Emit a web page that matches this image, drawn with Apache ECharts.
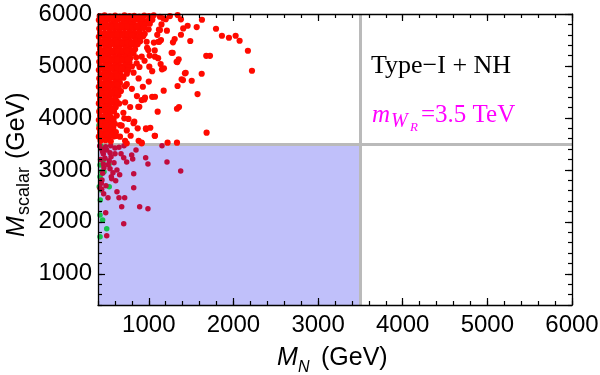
<!DOCTYPE html>
<html>
<head>
<meta charset="utf-8">
<script src="https://cdn.jsdelivr.net/npm/echarts@6/dist/echarts.min.js"></script>
<style>
html,body{margin:0;padding:0;background:#fff}
#chart{width:600px;height:375px}
</style>
</head>
<body>
<div id="chart"></div>
<script>
// axis range and tick labels (GeV)
var axisMin = 400
var axisMax = 6000
var tickValues = [1000, 2000, 3000, 4000, 5000, 6000]
var wrMass = 3500

// scan points, [M_N, M_scalar]
var redPoints = [
    [420,5960],[478,5972],[541,5955],[602,5968],[657,5950],[713,5975],[772,5958],[828,5966],[887,5952],[946,5970],[1003,5960],[1058,5975],
    [410,5885],[467,5872],[523,5890],[586,5878],[641,5893],[702,5870],[758,5886],[816,5874],[873,5892],[932,5878],[988,5868],[1042,5888],
    [430,5800],[488,5812],[551,5795],[608,5806],[667,5790],[724,5810],[786,5798],[842,5788],[898,5806],[957,5795],[1012,5812],
    [415,5720],[476,5732],[534,5712],[597,5726],[649,5716],[711,5730],[768,5708],[826,5724],[884,5712],[941,5730],[998,5705],
    [425,5640],[484,5628],[546,5648],[601,5632],[662,5645],[719,5626],[781,5642],[836,5630],[893,5646],[952,5620],
    [410,5560],[471,5572],[529,5552],[591,5568],[646,5556],[706,5574],[764,5550],[821,5566],[879,5554],[934,5570],
    [430,5480],[489,5492],[552,5472],[604,5488],[666,5476],[726,5494],[779,5470],[841,5486],[898,5478],
    [415,5400],[476,5412],[533,5392],[596,5406],[651,5396],[709,5414],[771,5390],[829,5404],[868,5420],
    [425,5320],[486,5332],[544,5312],[606,5326],[659,5316],[721,5334],[779,5310],[838,5324],
    [410,5240],[471,5252],[531,5232],[589,5246],[651,5236],[704,5254],[766,5230],[819,5244],
    [430,5160],[489,5172],[546,5152],[604,5166],[666,5156],[719,5174],[781,5150],[851,5166],
    [415,5080],[476,5092],[534,5072],[596,5086],[649,5076],[711,5094],[771,5070],
    [425,5000],[484,5012],[546,4992],[601,5006],[661,4996],[719,5014],[801,4990],
    [410,4920],[471,4932],[529,4912],[591,4926],[651,4916],[699,4934],
    [430,4840],[489,4852],[551,4832],[609,4846],[666,4836],[741,4850],
    [415,4760],[476,4772],[534,4752],[596,4766],[649,4756],[701,4774],
    [425,4680],[486,4692],[544,4672],[601,4686],[659,4676],
    [410,4600],[471,4612],[531,4592],[589,4606],[646,4596],[719,4612],
    [430,4520],[489,4532],[551,4512],[609,4526],[671,4516],
    [415,4440],[476,4452],[534,4432],[596,4446],[641,4436],
    [425,4360],[484,4372],[546,4352],[601,4366],
    [410,4280],[471,4292],[529,4272],[591,4286],[651,4276],
    [430,4200],[489,4212],[551,4192],[609,4206],
    [415,4120],[476,4132],[534,4112],[589,4126],
    [425,4040],[486,4052],[544,4032],[621,4046],
    [410,3960],[471,3972],[531,3952],[584,3966],
    [430,3880],[489,3892],[551,3872],[599,3886],
    [415,3800],[476,3812],[534,3792],[581,3806],
    [425,3720],[484,3732],[546,3712],[611,3726],
    [410,3640],[471,3652],[529,3632],[591,3646],
    [430,3560],[489,3572],[551,3552],
    // fill between rows of the dense band
    [445,5920],[505,5930],[565,5915],[625,5925],[690,5912],[745,5928],[800,5918],[860,5926],[915,5915],
    [440,5760],[500,5770],[565,5752],[625,5768],[685,5756],[745,5766],[805,5750],[860,5762],
    [445,5600],[505,5610],[565,5594],[625,5606],[685,5596],[745,5610],[800,5592],
    [440,5440],[500,5450],[565,5432],[625,5446],[685,5436],[745,5450],[800,5434],
    [445,5280],[505,5290],[565,5274],[625,5286],[685,5276],[740,5290],
    [440,5120],[500,5130],[565,5112],[625,5126],[685,5116],[745,5124],
    [445,4960],[505,4970],[565,4954],[625,4966],[680,4958],
    [440,4800],[500,4810],[565,4794],[625,4806],[680,4796],
    [445,4640],[505,4650],[565,4634],[625,4646],
    [440,4480],[500,4490],[565,4474],[625,4486],
    [445,4320],[505,4330],[565,4314],[620,4326],
    [440,4160],[500,4170],[565,4154],
    [445,4000],[505,4010],[565,3994],
    [440,3840],[500,3850],[565,3834],
    [445,3680],[505,3690],[565,3674],
    // edge of the dense band
    [760,4980],[820,4870],[880,4760],[740,4650],[800,4560],[860,4420],[720,4300],[780,4210],[700,4100],[760,3980],
    [820,3900],[680,3850],[740,3760],[660,3640],[890,4980],[950,5100],[1000,4700],[720,3560],[880,3560],[1040,4900],
    [930,4600],[1070,5300],[1100,5600],[1150,5800],[1200,5900],[1250,5960],[1060,5450],[980,5350],[1010,5200],[1110,5150],
    [955,4389],[888,4215],[1073,4408],[869,3800],[967,3800],[1073,3657],[829,3927],[711,3992],[660,3863],[613,3652],
    [739,3512],[916,3512],[1171,5916],[1132,5691],[1112,5466],[1270,5254],[1329,5081],[1179,4954],[975,5466],[994,5306],
    [916,5178],[857,5050],[758,4921],[1073,5178],[1006,4986],[1388,4742],[1427,4858],
    // sparse tail
    [1132,5947],[1341,5980],[1380,5897],[1628,5889],[1794,5716],[1864,5581],[1947,5543],[2026,5581],[2073,5485],[2171,5293],
    [2219,4908],[1679,5196],[1723,5196],[1625,4850],[1507,4715],[1436,4869],[1404,4729],[1576,4460],[1340,4614],[1357,4210],
    [1333,4177],[1176,4524],[1105,4120],[1683,3716],[1018,3811],[967,3786],[1070,3657],[786,3657],[916,3524],[1222,3524],
    [1333,3524],[1490,5480],[1282,5254],[1337,5075],[1353,5127],[1140,5036],[1156,4935],[947,4357],[916,4344],[876,4215],
    [1040,4407],[1214,5679],[1120,5698],[1407,5723],[1459,5774],[1566,5749],[1380,5601],[1286,5454],[1306,5518],[1144,5498],
    [1124,5466]
]

var crimsonPoints = [
    [648,3434],[707,3465],[849,3382],[963,3234],[990,3113],[1215,3151],[1377,2978],[822,2926],[822,2657],[892,2291],
    [990,2253],[704,1964],[503,1733],[491,2176],[680,2291],[715,2464],[648,2464],[518,2464],[624,2580],[467,2541],
    [444,2626],[494,2695],[609,2792],[562,2830],[557,2868],[656,2907],[624,2997],[577,2945],[542,3022],[589,3138],
    [533,3176],[739,3151],[810,3209],[704,3234],[798,3286],[672,3311],[601,3311],[542,3330],[554,3253],[483,3222],
    [503,3382],[463,3305],[550,3465],[491,3446],[444,3396],[439,2741],[455,2934],[447,2805],[424,2645],[463,3113],
    [1156,3465],[420,3460],[455,3350],[600,3420],[520,3100],[430,3200],[470,3040]
]

var greenPoints = [
    [424,3094],[444,2965],[471,2965],[533,2676],[427,2420],[424,2132],[455,2035],[503,1868],[424,1714],[530,3107],
    [463,3190],[415,2676],[435,2613],[435,3459],[424,2868],[424,3767],[435,3959],[418,4152],[424,4344],[435,4575],
    [424,3671],[412,3860],[416,4450]
]

// frame axes: major ticks (with labels) and minor ticks every 200
function majorAxis(pos, label){
    return {
        type: 'value',
        position: pos,
        min: axisMin,
        max: axisMax,
        z: 3,
        axisLine: {show: true, onZero: false, lineStyle: {color: '#000', width: 1.3}},
        axisTick: {show: true, inside: true, length: 7, customValues: tickValues, lineStyle: {color: '#000', width: 1.2}},
        axisLabel: {
            show: label,
            customValues: tickValues,
            formatter: function(v){ return String(v) },
            fontSize: 24,
            color: '#000',
            fontFamily: 'Liberation Sans',
            margin: (pos === 'bottom') ? 8 : 6
        },
        splitLine: {show: false}
    }
}
function minorAxis(pos){
    return {
        type: 'value',
        position: pos,
        min: axisMin,
        max: axisMax,
        z: 3,
        interval: 200,
        axisLine: {show: false, onZero: false},
        axisTick: {show: true, inside: true, length: 4, lineStyle: {color: '#000', width: 1.2}},
        axisLabel: {show: false},
        splitLine: {show: false}
    }
}

function txt(x, y, text, font, color){
    return {
        type: 'text', x: x, y: y, silent: true,
        style: {text: text, font: font, fill: color || '#000', textAlign: 'left', verticalAlign: 'middle'}
    }
}

var myChart = echarts.init(document.getElementById('chart'))
var option = {
    animation: false,
    grid: {left: 98, right: 28, top: 14, bottom: 70, outerBoundsMode: 'none'},
    xAxis: [majorAxis('bottom', true), minorAxis('bottom'), majorAxis('top', false), minorAxis('top')],
    yAxis: [majorAxis('left', true), minorAxis('left'), majorAxis('right', false), minorAxis('right')],
    graphic: [
        // x title
        txt(277, 358.5, 'M', 'italic 25px "Liberation Sans"'),
        txt(298, 368, 'N', 'italic 16px "Liberation Sans"'),
        txt(321, 358.5, '(GeV)', '25px "Liberation Sans"'),
        // y title, rotated
        {
            type: 'group', x: 26, y: 237, rotation: Math.PI / 2,
            children: [
                txt(0, -8.5, 'M', 'italic 25px "Liberation Sans"'),
                txt(22, -2, 'scalar', '18px "Liberation Sans"'),
                txt(78, -8.5, '(GeV)', '25px "Liberation Sans"')
            ]
        },
        txt(371, 66, 'Type\u2212I + NH', '26px "Liberation Serif"'),
        txt(372, 115.5, 'm', 'italic 25px "Liberation Serif"', '#ff00ff'),
        txt(391, 121.5, 'W', 'italic 20px "Liberation Serif"', '#ff00ff'),
        txt(410, 128, 'R', 'italic 13px "Liberation Serif"', '#ff00ff'),
        txt(421, 115.5, '=3.5 TeV', '25px "Liberation Serif"', '#ff00ff')
    ],
    series: [
        {
            name: 'green',
            type: 'scatter',
            symbolSize: 5.5,
            itemStyle: {color: '#17c24c', opacity: 1},
            data: greenPoints,
            markArea: {
                silent: true,
                z: 1,
                itemStyle: {color: '#c0c0fa', opacity: 1},
                data: [[{coord: [axisMin, axisMin]}, {coord: [wrMass, wrMass]}]]
            },
            markLine: {
                silent: true,
                z: 1,
                symbol: 'none',
                label: {show: false},
                lineStyle: {color: '#bababa', width: 3, type: 'solid'},
                data: [{xAxis: wrMass}, {yAxis: wrMass}]
            }
        },
        {
            name: 'crimson',
            type: 'scatter',
            symbolSize: 5.5,
            itemStyle: {color: '#c00c3e', opacity: 1},
            data: crimsonPoints
        },
        {
            name: 'red',
            type: 'scatter',
            symbolSize: 6.2,
            itemStyle: {color: '#ff0a00', opacity: 1},
            data: redPoints
        }
    ]
}
myChart.setOption(option)
</script>
</body>
</html>
